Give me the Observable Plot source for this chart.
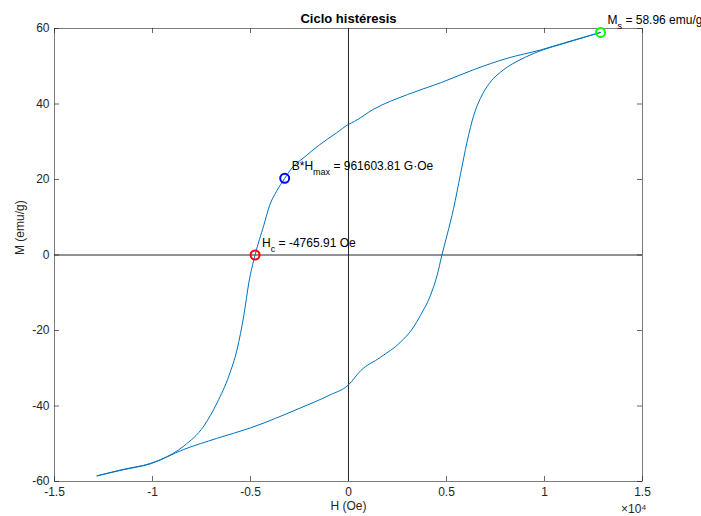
<!DOCTYPE html>
<html><head><meta charset="utf-8">
<script src="https://cdn.jsdelivr.net/npm/d3@7"></script>
<script src="https://cdn.jsdelivr.net/npm/@observablehq/plot@0.6"></script>
<style>body{margin:0;background:#fff} svg{display:block}</style>
</head><body><div id="chart"></div>
<script>
// Descending branch (from +saturation to -saturation)
const descH = [12860, 11480, 9790, 8090, 6390, 4690, 3010, 1275, 305, 0, -625, -1475, -2325, -2830, -3255, -3680, -4020, -4320, -4766, -5080, -5340, -5680, -6100, -6700, -7380, -8400, -9590, -10100, -11500, -12830];
const descM = [58.96, 56.9, 54.3, 52.1, 49.1, 45.6, 42.5, 38.6, 35.4, 34.6, 32.3, 29.2, 25.6, 23.4, 20.3, 16.8, 13.2, 7.9, 0, -7.2, -16.0, -24.9, -32.0, -39.1, -45.3, -50.6, -54.2, -55.2, -56.8, -58.5];
// Ascending branch (from -saturation to +saturation)
const ascH = [-12830, -11500, -10100, -8400, -6730, -5000, -2450, -1000, 0, 610, 1630, 2650, 3250, 3670, 4180, 4520, 4766, 5030, 5360, 5710, 6050, 6390, 6730, 7070, 7400, 7750, 8100, 8600, 9450, 11480, 12860];
const ascM = [-58.5, -56.9, -55.3, -51.5, -48.6, -45.8, -40.5, -37.2, -34.4, -30.7, -27.1, -23.1, -19.6, -16.0, -10.7, -5.4, 0, 5.3, 12.3, 21.3, 30.0, 37.0, 41.5, 44.6, 46.8, 48.4, 49.8, 51.3, 53.4, 56.8, 58.96];

const xTicks = [-15000, -10000, -5000, 0, 5000, 10000, 15000];
const yTicks = [-60, -40, -20, 0, 20, 40, 60];

const annoH = [-4765.91, -3255, 12860];
const annoM = [0, 20.3, 58.96];
const annoLabel = ["H_{c} = -4765.91 Oe", "B*H_{max} = 961603.81 G·Oe", "M_{s} = 58.96 emu/g"];
const annoColor = ["#ff0000", "#0000ff", "#00ff00"];

// both branches ordered by increasing H so a monotone-x curve can be used
const loop = [
  ...descH.map((h, i) => ({H: h, M: descM[i], branch: "desc"})).reverse(),
  ...ascH.map((h, i) => ({H: h, M: ascM[i], branch: "asc"}))
];
const anno = annoH.map((h, i) => ({H: h, M: annoM[i], label: annoLabel[i], color: annoColor[i]}));

const W = 701, HH = 516, mL = 54, mR = 59, mT = 28, mB = 35;
const fw = W - mL - mR, fh = HH - mT - mB;
const font = "'Liberation Sans', Arial, Helvetica, sans-serif";
const axCol = "#262626";

const chart = Plot.plot({
  width: W, height: HH,
  marginLeft: mL, marginRight: mR, marginTop: mT, marginBottom: mB,
  style: {fontFamily: font, fontSize: "12px", color: axCol, background: "#fff", overflow: "visible"},
  x: {domain: [-15000, 15000]},
  y: {domain: [-60, 60]},
  color: {type: "identity"},
  marks: [
    Plot.ruleX([0], {stroke: "#262626", strokeWidth: 1}),
    Plot.ruleY([0], {stroke: "#262626", strokeWidth: 1}),
    Plot.line(loop, {x: "H", y: "M", z: "branch", stroke: "#0072BD", strokeWidth: 1, curve: "monotone-x"}),
    Plot.frame({stroke: axCol, strokeWidth: 0.6}),
    Plot.tickX(xTicks, {x: d => d, insetTop: fh - 5, stroke: axCol, strokeWidth: 0.7}),
    Plot.tickX(xTicks, {x: d => d, insetBottom: fh - 5, stroke: axCol, strokeWidth: 0.7}),
    Plot.tickY(yTicks, {y: d => d, insetRight: fw - 5, stroke: axCol, strokeWidth: 0.7}),
    Plot.tickY(yTicks, {y: d => d, insetLeft: fw - 5, stroke: axCol, strokeWidth: 0.7}),
    Plot.axisX({ticks: xTicks, tickSize: 0, tickPadding: 6, tickFormat: d => String(d / 1e4), label: null}),
    Plot.axisY({ticks: yTicks, tickSize: 0, tickPadding: 5, tickFormat: d => String(d), label: null}),
    Plot.dot(anno, {x: "H", y: "M", r: 4.5, stroke: d => d.color, strokeWidth: 2, fill: "none"}),
    Plot.text(anno, {x: "H", y: "M", text: "label", textAnchor: "start", lineAnchor: "middle", dx: 7, dy: -12, fontSize: 12, fill: "#000"}),
    Plot.text(["Ciclo histéresis"], {frameAnchor: "top", lineAnchor: "middle", dy: -10, fontWeight: "bold", fontSize: 13, fill: "#000"}),
    Plot.text(["H (Oe)"], {frameAnchor: "bottom", lineAnchor: "middle", dy: 25, fontSize: 12, fill: axCol}),
    Plot.text(["×10⁴"], {frameAnchor: "bottom-right", textAnchor: "end", lineAnchor: "middle", dx: 4, dy: 28, fontSize: 12, fill: axCol}),
    Plot.text(["M (emu/g)"], {frameAnchor: "left", rotate: -90, lineAnchor: "middle", dx: -34, fontSize: 12, fill: axCol})
  ]
});

// Render "_{...}" as real subscripts
chart.querySelectorAll("text").forEach(t => {
  const s = t.textContent;
  if (!s.includes("_{")) return;
  t.textContent = "";
  t.style.whiteSpace = "pre";
  const parts = s.split(/_\{([^}]*)\}/);
  const NS = "http://www.w3.org/2000/svg";
  let shifted = false;
  parts.forEach((p, i) => {
    if (p === "") return;
    const ts = document.createElementNS(NS, "tspan");
    ts.textContent = p;
    if (i % 2 === 1) {
      ts.setAttribute("font-size", "9");
      ts.setAttribute("dy", "5");
      shifted = true;
    } else if (shifted) {
      ts.setAttribute("dy", "-5");
      shifted = false;
    }
    t.appendChild(ts);
  });
});

document.getElementById("chart").appendChild(chart);
</script>
</body></html>
